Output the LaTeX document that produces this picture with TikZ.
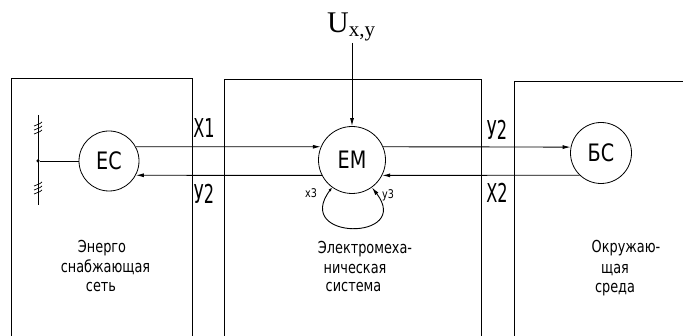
\documentclass[tikz,border=0pt]{standalone}
\usepackage{fontspec}
\setmainfont{Liberation Serif}
\newfontfamily\cad[FakeStretch=0.8]{DejaVu Sans}
\newfontfamily\cadt[FakeStretch=0.78]{DejaVu Sans}
\newfontfamily\cadn[FakeStretch=0.62]{DejaVu Sans}
\usetikzlibrary{arrows.meta}
\begin{document}
\begin{tikzpicture}[x=1pt,y=-1pt,
  wire/.style={line width=0.9pt},
  blk/.style={circle,draw,line width=0.8pt,inner sep=0pt,font=\cad\fontsize{24}{24}\selectfont},
  tip/.style={-{Latex[length=8pt,width=4pt]}},
  lbl/.style={font=\cadn\fontsize{26}{26}\selectfont,inner sep=0pt},
  sml/.style={font=\cad\fontsize{12}{12}\selectfont,inner sep=0pt,anchor=base west},
  txt/.style={font=\cadt\fontsize{16.5}{16.5}\selectfont,inner sep=0pt,anchor=base},
  dot/.style={circle,fill,inner sep=0pt,minimum size=3.5pt}
]
\useasboundingbox (0,0) rectangle (683,336);

% regions
\draw[wire] (11,340) -- (11,78) -- (192,78) -- (192,340);
\draw[wire] (224,340) -- (224,79) -- (481,79) -- (481,340);
\draw[wire] (514,340) -- (514,81) -- (690,81);

% blocks
\node[blk,minimum size=60pt] (ec) at (109,161) {ЕС};
\node[blk,minimum size=67pt] (em) at (352,160) {ЕМ};
\node[blk,minimum size=61pt] (bs) at (601,153) {БС};

% input
\node[anchor=base west,inner sep=0pt] (u) at (327,33)
  {\fontsize{30}{30}\selectfont U\raisebox{-4pt}{\fontsize{21}{21}\selectfont x,y}};
\coordinate (uin) at (352,43);
\draw[wire,tip] (uin) -- (em.north);

% connectors
\draw[wire,tip] (ec.28) -- (em.157);
\draw[wire,tip] (em.23) -- (bs.169);
\draw[wire,tip] (bs.-134) -- (em.-27);
\draw[wire,tip] (em.-153) -- (ec.-28);
\draw[wire,{Latex[length=4pt,width=3pt]}-{Latex[length=8pt,width=4pt]}]
  (em.-126) .. controls (292,241) and (413,241) .. (em.-54);

% bus
\coordinate (bustop) at (38,115);
\coordinate (busbot) at (38,205);
\node[dot] (j) at (38,161) {};
\draw[wire] (bustop) -- (busbot);
\draw[wire] (j) -- (ec.west);
\foreach \yy in {124,128,132,184,188,192}
  \draw[line width=0.7pt] (34,\yy+2) .. controls (37,\yy) and (39,\yy+1) .. (42,\yy-2);

% labels
\node[lbl] at (204,128.5) {Х1};
\node[lbl] at (204,194) {У2};
\node[lbl] at (497,130) {У2};
\node[lbl] at (497,192.5) {Х2};
\node[sml] at (305,198) {х3};
\node[sml] at (382,199) {у3};

% texts
\node[txt] at (102,253) {Энерго};
\node[txt] at (105.5,273) {снабжающая};
\node[txt] at (101,292) {сеть};
\node[txt] at (365,254) {Электромеха-};
\node[txt] at (355,274) {ническая};
\node[txt] at (353.5,292) {система};
\node[txt] at (626,253) {Окружаю-};
\node[txt] at (615,274) {щая};
\node[txt] at (615,293) {среда};
\end{tikzpicture}
\end{document}
